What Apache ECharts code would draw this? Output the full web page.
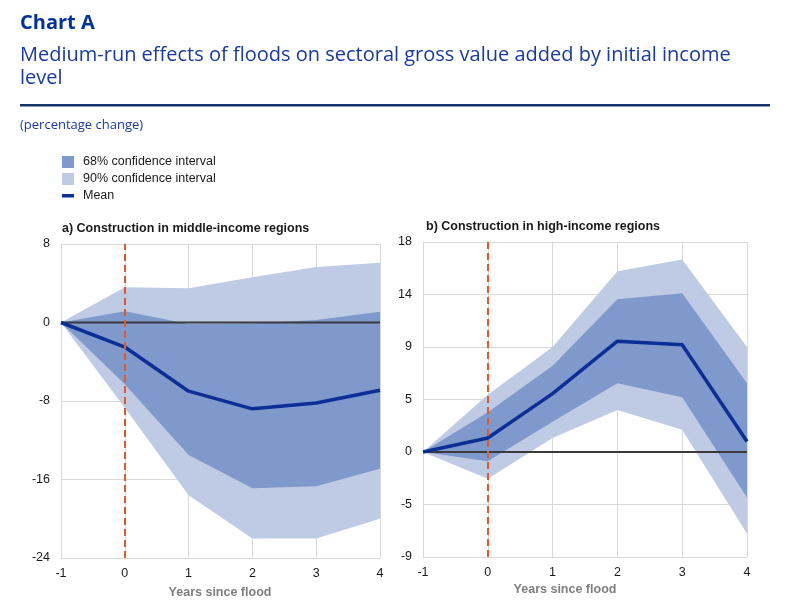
<!DOCTYPE html>
<html><head><meta charset="utf-8">
<script src="https://cdn.jsdelivr.net/npm/echarts@6/dist/echarts.min.js"></script>
<style>html,body{margin:0;padding:0;background:#fff}#c{width:796px;height:610px}</style>
</head><body><div id="c"></div>
<script>
var xCats = ['-1','0','1','2','3','4'];
// Panel a: middle-income
var meanA = [0, -2.5, -7.0, -8.8, -8.2, -6.9];
var lo68A = [0, -6.3, -13.5, -16.9, -16.7, -14.9];
var hi68A = [0, 1.15, -0.15, -0.1, 0.25, 1.1];
var lo90A = [0, -8.7, -17.6, -22.0, -22.0, -20.0];
var hi90A = [0, 3.6, 3.5, 4.6, 5.65, 6.1];
// Panel b: high-income
var meanB = [0, 1.2, 5.0, 9.5, 9.2, 0.9];
var lo68B = [0, -0.8, 2.6, 5.9, 4.7, -3.9];
var hi68B = [0, 3.4, 7.4, 13.1, 13.6, 5.9];
var lo90B = [0, -2.3, 1.2, 3.6, 1.9, -7.0];
var hi90B = [0, 4.9, 9.0, 15.5, 16.5, 9.0];
var zeroLine = [0, 0, 0, 0, 0, 0];
var yTicksB = ['-9','-5','0','5','9','14','18'];

var C_DARK = '#7f99cc', C_LIGHT = '#bfcbe4', C_MEAN = '#0b2f95', C_ZERO = '#3a3a3a', C_RED = '#e0592a';
var FONT = 'Liberation Sans, Arial, sans-serif';
var TFONT = '"Open Sans", sans-serif';

function diff(a, b) { return a.map(function (v, i) { return +(v - b[i]).toFixed(3); }); }

function bandSeries(idx, lo, hi, color, key, name) {
  return [
    { type: 'line', xAxisIndex: idx, yAxisIndex: idx, stack: key, stackStrategy: 'all', data: lo,
      symbol: 'none', lineStyle: { width: 0, opacity: 0 }, silent: true, z: 1 },
    { type: 'line', name: name, xAxisIndex: idx, yAxisIndex: idx, stack: key, stackStrategy: 'all', data: diff(hi, lo),
      symbol: 'none', lineStyle: { width: 0, opacity: 0 }, areaStyle: { color: color, opacity: 1 }, silent: true, z: 1 }
  ];
}

function panelSeries(idx, mean, lo68, hi68, lo90, hi90) {
  var s = [];
  s = s.concat(bandSeries(idx, lo90, hi90, C_LIGHT, 'l' + idx, '90% confidence interval'));
  s = s.concat(bandSeries(idx, lo68, hi68, C_DARK, 'd' + idx, '68% confidence interval'));
  s.push({ type: 'line', xAxisIndex: idx, yAxisIndex: idx, data: zeroLine, symbol: 'none',
    lineStyle: { color: C_ZERO, width: 2 }, z: 3, silent: true,
    markLine: { silent: true, symbol: 'none', label: { show: false },
      lineStyle: { color: C_RED, width: 2, type: [7, 4] },
      data: [{ xAxis: '0' }] } });
  s.push({ type: 'line', name: 'Mean', xAxisIndex: idx, yAxisIndex: idx, data: mean, symbol: 'none',
    lineStyle: { color: C_MEAN, width: 3.5 }, z: 4, silent: true });
  return s;
}

var axisLbl = { color: '#1a1a1a', fontSize: 12.5, fontFamily: FONT };
var split = { show: true, lineStyle: { color: '#d9d9d9', width: 1 } };

function xAx(idx) {
  return { type: 'category', gridIndex: idx, data: xCats, boundaryGap: false,
    axisLine: { show: false }, axisTick: { show: false },
    axisLabel: Object.assign({ margin: 9 }, axisLbl), splitLine: split };
}

var option = {
  animation: false,
  backgroundColor: '#fff',
  grid: [
    { left: 61, right: 416, top: 244, bottom: 52 },
    { left: 423, right: 49, top: 242, bottom: 53 }
  ],
  xAxis: [xAx(0), xAx(1)],
  yAxis: [
    { type: 'value', gridIndex: 0, min: -24, max: 8, interval: 8,
      axisLine: { show: false }, axisTick: { show: false },
      axisLabel: Object.assign({ margin: 11 }, axisLbl), splitLine: split },
    { type: 'value', gridIndex: 1, min: -9, max: 18, interval: 4.5,
      axisLine: { show: false }, axisTick: { show: false },
      axisLabel: Object.assign({ margin: 11, formatter: function (v) {
        return yTicksB[Math.round((v + 9) / 4.5)]; } }, axisLbl), splitLine: split }
  ],
  series: panelSeries(0, meanA, lo68A, hi68A, lo90A, hi90A)
    .concat(panelSeries(1, meanB, lo68B, hi68B, lo90B, hi90B)),
  graphic: [
    { type: 'text', left: 20, top: 13, style: { text: 'Chart A', fill: '#003299', font: 'bold 20px ' + TFONT } },
    { type: 'text', left: 20, top: 44, style: { text: 'Medium-run effects of floods on sectoral gross value added by initial income\nlevel',
      fill: '#1a3a9c', font: '20px ' + TFONT, lineHeight: 23 } },
    { type: 'rect', shape: { x: 20, y: 104, width: 750, height: 2.5 }, style: { fill: '#17336e' } },
    { type: 'text', left: 20, top: 119, style: { text: '(percentage change)', fill: '#1a3a9c', font: '13px ' + TFONT } },
    // legend
    { type: 'rect', shape: { x: 62, y: 156, width: 12, height: 12 }, style: { fill: C_DARK } },
    { type: 'text', left: 83, top: 155, style: { text: '68% confidence interval', fill: '#1a1a1a', font: '12.5px ' + FONT } },
    { type: 'rect', shape: { x: 62, y: 173, width: 12, height: 12 }, style: { fill: C_LIGHT } },
    { type: 'text', left: 83, top: 172, style: { text: '90% confidence interval', fill: '#1a1a1a', font: '12.5px ' + FONT } },
    { type: 'rect', shape: { x: 62, y: 194, width: 12, height: 3.5 }, style: { fill: C_MEAN } },
    { type: 'text', left: 83, top: 189, style: { text: 'Mean', fill: '#1a1a1a', font: '12.5px ' + FONT } },
    // panel titles
    { type: 'text', left: 62, top: 222, style: { text: 'a) Construction in middle-income regions', fill: '#1a1a1a', font: 'bold 12.5px ' + FONT } },
    { type: 'text', left: 426, top: 220, style: { text: 'b) Construction in high-income regions', fill: '#1a1a1a', font: 'bold 12.5px ' + FONT } },
    // axis names
    { type: 'text', x: 220, y: 593, style: { text: 'Years since flood', fill: '#7f7f7f', font: 'bold 12.5px ' + FONT, align: 'center', verticalAlign: 'middle' } },
    { type: 'text', x: 565, y: 590, style: { text: 'Years since flood', fill: '#7f7f7f', font: 'bold 12.5px ' + FONT, align: 'center', verticalAlign: 'middle' } }
  ]
};
var chart = echarts.init(document.getElementById('c'), null, { renderer: 'canvas' });
chart.setOption(option);
</script></body></html>
